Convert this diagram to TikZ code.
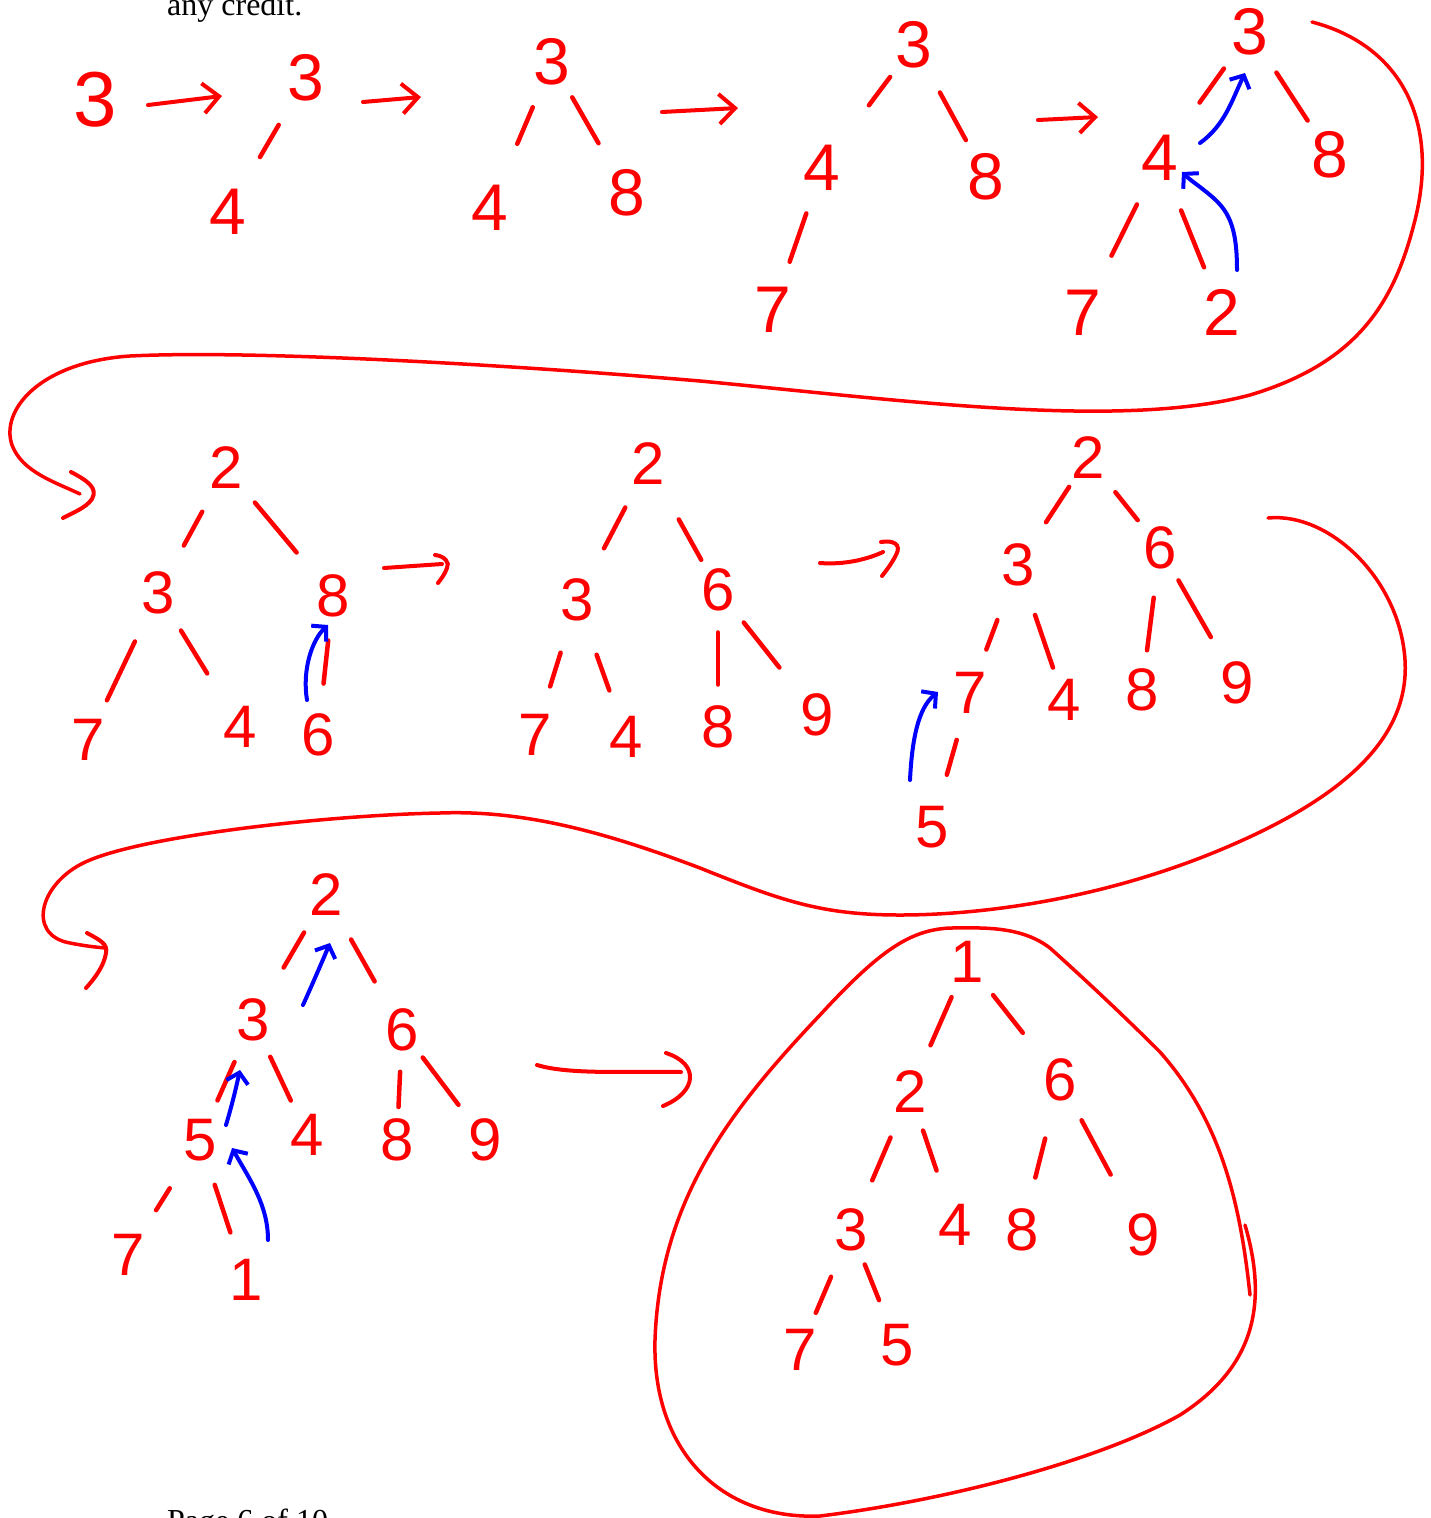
\documentclass[tikz,border=0pt]{standalone}
\usepackage{fontspec}
\setmainfont{Liberation Serif}
\newfontfamily\digitfont{Liberation Sans}
\usetikzlibrary{arrows.meta,calc}
\definecolor{ink}{RGB}{255,0,0}
\definecolor{swapblue}{RGB}{0,0,255}
\newcommand\tedge[4]{\draw[hedge] ($(#1)!#3!(#2)$) -- ($(#1)!#4!(#2)$);}
\begin{document}
\begin{tikzpicture}[x=1pt,y=-1pt,
  dig/.style={text=ink,font=\digitfont\fontsize{60}{60}\selectfont,inner sep=0pt},
  bigdig/.style={dig,font=\digitfont\fontsize{66}{66}\selectfont},
  hugedig/.style={dig,font=\digitfont\fontsize{78}{78}\selectfont},
  hedge/.style={draw=ink,line width=4.5pt,line cap=round},
  flow/.style={draw=ink,line width=4pt,line cap=round,-{Straight Barb[length=16pt,width=30pt]}},
  flowline/.style={draw=ink,line width=4pt,line cap=round},
  bigcurve/.style={draw=ink,line width=3.5pt,line cap=round},
  swap/.style={draw=swapblue,line width=4pt,line cap=round,-{Straight Barb[length=10pt,width=22pt]}},
  pagetext/.style={anchor=base west,font=\fontsize{32}{32}\selectfont,inner sep=0pt}
]
\useasboundingbox (0,0) rectangle (1431,1518);
\clip (0,0) rectangle (1431,1518);
\fill[white] (0,0) rectangle (1431,1518);

% page text
\node[pagetext] (hdr) at (167,15) {any credit.};
\node[pagetext] (ftr) at (167,1531) {Page 6 of 10};

% ---------- row 1 ----------
\node[hugedig] (a1) at (95,100) {3};

\node[bigdig] (b1) at (306,78) {3};
\node[bigdig] (b2) at (228,212) {4};
\tedge{b1}{b2}{0.35}{0.59}

\node[bigdig] (c1) at (552,62) {3};
\node[bigdig] (c2) at (490,208) {4};
\node[bigdig] (c3) at (627,193) {8};
\tedge{c1}{c2}{0.31}{0.56}
\tedge{c1}{c3}{0.27}{0.62}

\node[bigdig] (d1) at (914,45) {3};
\node[bigdig] (d2) at (822,168) {4};
\node[bigdig] (d3) at (986,177) {8};
\node[bigdig] (d4) at (773,310) {7};
\tedge{d1}{d2}{0.26}{0.49}
\tedge{d1}{d3}{0.36}{0.72}
\tedge{d2}{d4}{0.32}{0.66}

\node[bigdig] (e1) at (1250,32) {3};
\node[bigdig] (e2) at (1160,158) {4};
\node[bigdig] (e3) at (1330,155) {8};
\node[bigdig] (e4) at (1083,313) {7};
\node[bigdig] (e5) at (1222,312) {2};
\tedge{e1}{e2}{0.29}{0.56}
\tedge{e1}{e3}{0.33}{0.72}
\tedge{e2}{e4}{0.30}{0.63}
\tedge{e2}{e5}{0.34}{0.71}

\coordinate (sa1) at (1237,270); \coordinate (sa2) at (1182,172);
\coordinate (sb1) at (1200,143); \coordinate (sb2) at (1245,73);
\draw[swap] (sa1) .. controls (1237,225) and (1228,210) .. (1210,195) .. controls (1198,185) and (1190,180) .. (sa2);
\draw[swap] (sb1) .. controls (1225,125) and (1232,100) .. (sb2);

\coordinate (fa1) at (148,105); \coordinate (fa2) at (222,96);
\coordinate (fb1) at (363,102); \coordinate (fb2) at (421,97);
\coordinate (fc1) at (662,112); \coordinate (fc2) at (738,108);
\coordinate (fd1) at (1038,120); \coordinate (fd2) at (1098,117);
\draw[flow] (fa1) -- (fa2);
\draw[flow] (fb1) -- (fb2);
\draw[flow] (fc1) -- (fc2);
\draw[flow] (fd1) -- (fd2);

% big connector 1
\coordinate (ca) at (1312,22); \coordinate (cb) at (80,494);
\draw[bigcurve] (ca) .. controls (1400,45) and (1440,120) .. (1415,220)
  .. controls (1395,300) and (1360,362) .. (1250,395)
  .. controls (1120,430) and (900,400) .. (700,381)
  .. controls (500,364) and (250,350) .. (130,356)
  .. controls (40,362) and (0,410) .. (12,445)
  .. controls (22,472) and (55,482) .. (cb);
\draw[flowline] (71,472) .. controls (88,481) and (98,488) .. (92,499) .. controls (86,508) and (72,513) .. (63,518);

% ---------- row 2 ----------
\node[dig] (f1) at (226,468) {2};
\node[dig] (f2) at (158,593) {3};
\node[dig] (f3) at (333,596) {8};
\node[dig] (f4) at (88,740) {7};
\node[dig] (f5) at (240,727) {4};
\node[dig] (f6) at (318,735) {6};
\tedge{f1}{f2}{0.35}{0.62}
\tedge{f1}{f3}{0.27}{0.66}
\tedge{f2}{f4}{0.33}{0.73}
\tedge{f2}{f5}{0.28}{0.60}
\tedge{f3}{f6}{0.32}{0.63}
\coordinate (sc1) at (307,700); \coordinate (sc2) at (328,625);
\draw[swap] (sc1) .. controls (302,670) and (312,640) .. (sc2);

\coordinate (fe1) at (384,568); \coordinate (fe2) at (442,564);
\draw[flowline] (fe1) -- (fe2);
\draw[flowline] (435,555) .. controls (445,556) and (450,563) .. (447,568) .. controls (445,574) and (441,579) .. (438,583);

\node[dig] (g1) at (648,464) {2};
\node[dig] (g2) at (577,600) {3};
\node[dig] (g3) at (718,590) {6};
\node[dig] (g4) at (535,735) {7};
\node[dig] (g5) at (626,737) {4};
\node[dig] (g6) at (718,727) {8};
\node[dig] (g7) at (817,715) {9};
\tedge{g1}{g2}{0.32}{0.62}
\tedge{g1}{g3}{0.44}{0.76}
\tedge{g2}{g4}{0.39}{0.64}
\tedge{g2}{g5}{0.40}{0.66}
\tedge{g3}{g6}{0.31}{0.69}
\tedge{g3}{g7}{0.26}{0.62}

\coordinate (ff1) at (820,563); \coordinate (ff2) at (883,552);
\draw[flowline] (ff1) .. controls (845,565) and (868,559) .. (ff2);
\draw[flowline] (881,542) .. controls (893,540) and (902,544) .. (896,555) .. controls (892,563) and (886,571) .. (882,576);

\node[dig] (h1) at (1088,458) {2};
\node[dig] (h2) at (1018,565) {3};
\node[dig] (h3) at (1160,548) {6};
\node[dig] (h4) at (970,693) {7};
\node[dig] (h5) at (1064,700) {4};
\node[dig] (h6) at (1142,690) {8};
\node[dig] (h7) at (1237,683) {9};
\node[dig] (h8) at (932,827) {5};
\tedge{h1}{h2}{0.27}{0.60}
\tedge{h1}{h3}{0.38}{0.69}
\tedge{h2}{h4}{0.43}{0.66}
\tedge{h2}{h5}{0.37}{0.76}
\tedge{h3}{h6}{0.35}{0.72}
\tedge{h3}{h7}{0.24}{0.66}
\tedge{h4}{h8}{0.35}{0.61}
\coordinate (sd1) at (910,780); \coordinate (sd2) at (938,692);
\draw[swap] (sd1) .. controls (912,740) and (918,708) .. (sd2);

% big connector 2
\coordinate (cc) at (1268,518); \coordinate (cd) at (105,948);
\draw[bigcurve] (cc) .. controls (1330,512) and (1400,580) .. (1405,660)
  .. controls (1410,740) and (1340,800) .. (1220,850)
  .. controls (1100,900) and (980,915) .. (900,915)
  .. controls (820,915) and (780,900) .. (700,868)
  .. controls (600,830) and (520,810) .. (440,813)
  .. controls (330,815) and (150,835) .. (90,860)
  .. controls (40,880) and (25,935) .. (70,943)
  .. controls (85,946) and (95,947) .. (cd);
\draw[flowline] (87,933) .. controls (100,940) and (108,944) .. (106,953) .. controls (104,966) and (95,978) .. (86,988);

% ---------- row 3 ----------
\node[dig] (i1) at (326,895) {2};
\node[dig] (i2) at (253,1020) {3};
\node[dig] (i3) at (402,1030) {6};
\node[dig] (i4) at (200,1140) {5};
\node[dig] (i5) at (307,1135) {4};
\node[dig] (i6) at (397,1140) {8};
\node[dig] (i7) at (485,1140) {9};
\node[dig] (i8) at (128,1255) {7};
\node[dig] (i9) at (246,1280) {1};
\tedge{i1}{i2}{0.30}{0.58}
\tedge{i1}{i3}{0.33}{0.64}
\tedge{i2}{i4}{0.35}{0.67}
\tedge{i2}{i5}{0.32}{0.70}
\tedge{i3}{i6}{0.38}{0.70}
\tedge{i3}{i7}{0.25}{0.68}
\tedge{i4}{i8}{0.42}{0.61}
\tedge{i4}{i9}{0.32}{0.66}
\coordinate (se1) at (303,1005); \coordinate (se2) at (330,943);
\coordinate (sf1) at (226,1125); \coordinate (sf2) at (240,1070);
\coordinate (sg1) at (268,1240); \coordinate (sg2) at (232,1148);
\draw[swap] (se1) .. controls (312,985) and (322,962) .. (se2);
\draw[swap] (sf1) .. controls (232,1105) and (236,1088) .. (sf2);
\draw[swap] (sg1) .. controls (268,1205) and (250,1180) .. (sg2);

\coordinate (fg1) at (537,1065); \coordinate (fg2) at (681,1072);
\draw[flowline] (fg1) .. controls (570,1075) and (630,1071) .. (fg2);
\draw[flowline] (666,1053) .. controls (700,1064) and (697,1092) .. (663,1106);

\node[dig] (j1) at (967,962) {1};
\node[dig] (j2) at (910,1092) {2};
\node[dig] (j3) at (1060,1080) {6};
\node[dig] (j4) at (851,1230) {3};
\node[dig] (j5) at (955,1225) {4};
\node[dig] (j6) at (1022,1230) {8};
\node[dig] (j7) at (1143,1235) {9};
\node[dig] (j8) at (800,1350) {7};
\node[dig] (j9) at (897,1345) {5};
\tedge{j1}{j2}{0.27}{0.64}
\tedge{j1}{j3}{0.28}{0.60}
\tedge{j2}{j4}{0.33}{0.64}
\tedge{j2}{j5}{0.29}{0.59}
\tedge{j3}{j6}{0.39}{0.65}
\tedge{j3}{j7}{0.26}{0.61}
\tedge{j4}{j8}{0.39}{0.69}
\tedge{j4}{j9}{0.30}{0.61}

% enclosing loop
\draw[bigcurve] (1250,1295) .. controls (1240,1200) and (1220,1120) .. (1160,1052)
  .. controls (1120,1012) and (1080,975) .. (1050,948)
  .. controls (1020,925) and (980,928) .. (950,928)
  .. controls (910,930) and (880,950) .. (820,1015)
  .. controls (730,1110) and (660,1200) .. (655,1340)
  .. controls (652,1450) and (720,1520) .. (820,1516)
  .. controls (950,1500) and (1100,1460) .. (1180,1415)
  .. controls (1250,1370) and (1270,1310) .. (1245,1225);
\end{tikzpicture}
\end{document}
